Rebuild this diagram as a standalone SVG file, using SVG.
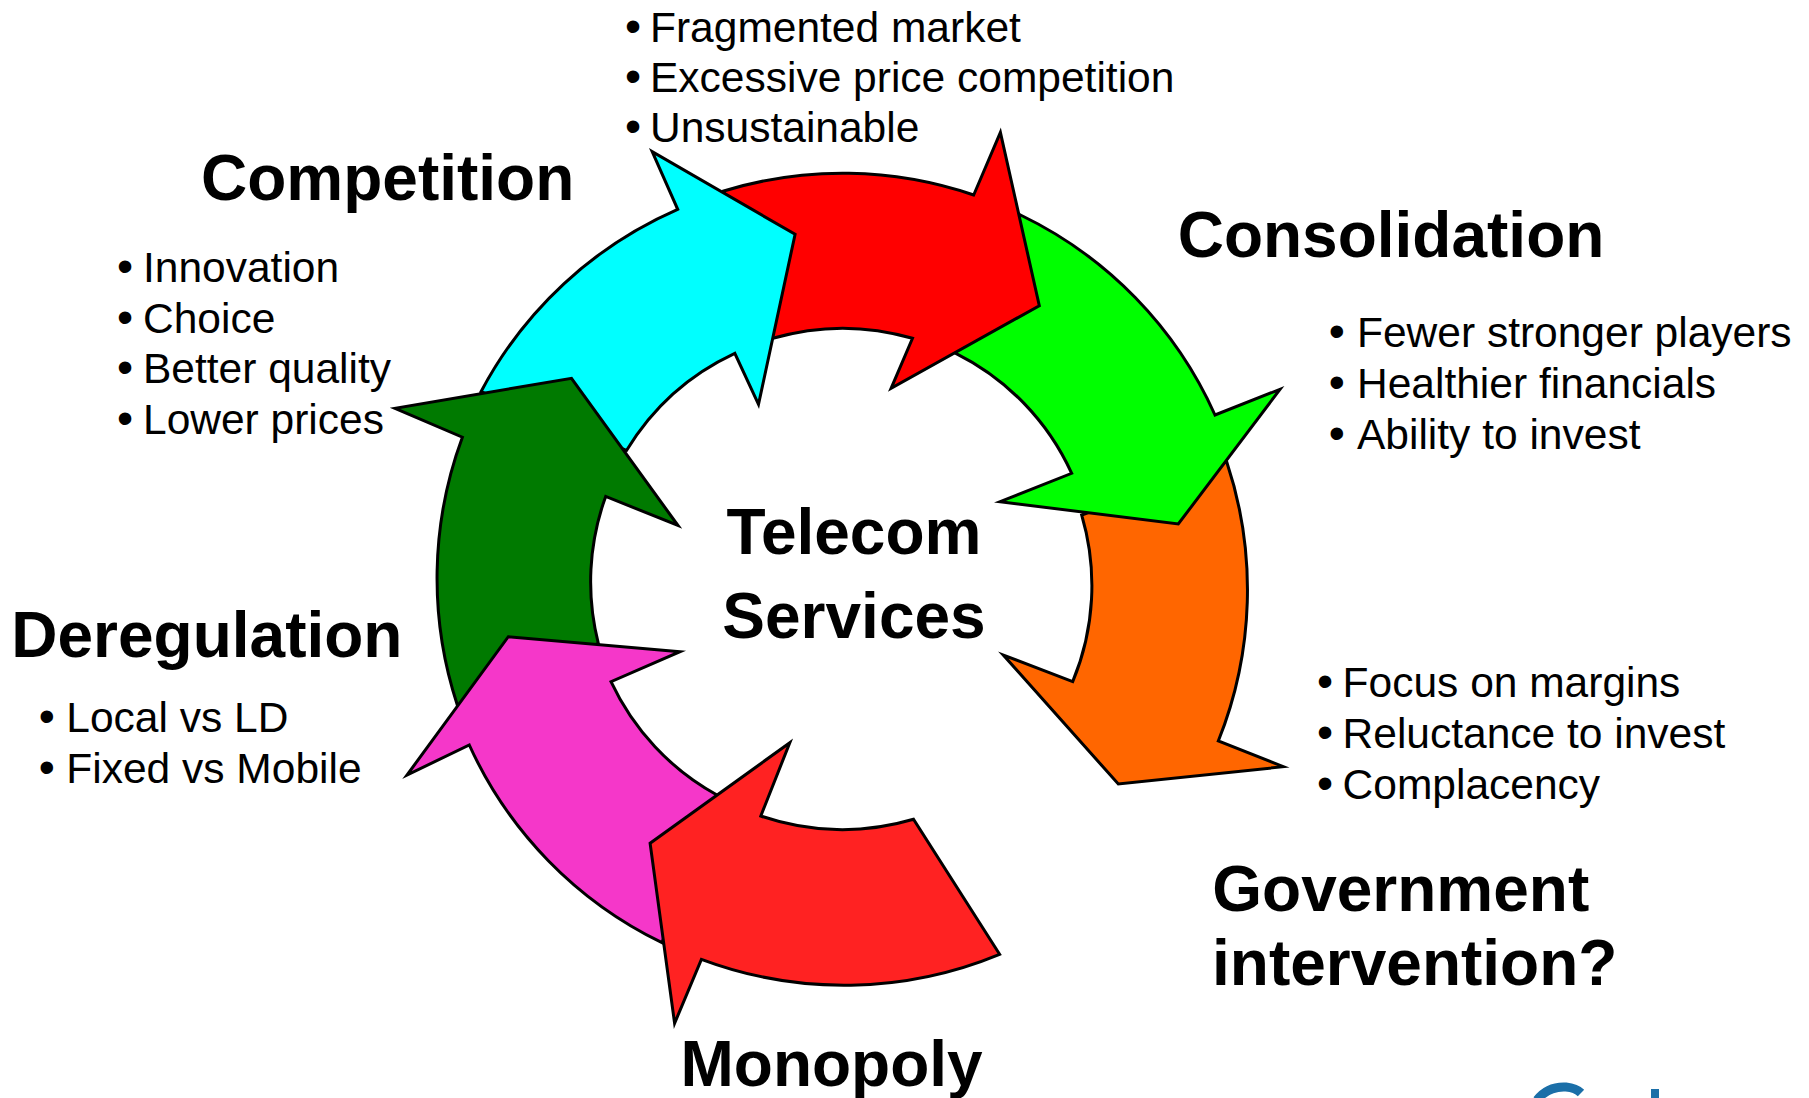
<svg xmlns="http://www.w3.org/2000/svg" width="1809" height="1098" viewBox="0 0 1809 1098">
<style>
.arr{stroke:#000;stroke-width:3;stroke-linejoin:miter;stroke-miterlimit:10}
.h{font-family:"Liberation Sans",Arial,sans-serif;font-weight:bold;font-size:64px;fill:#000}
.b{font-family:"Liberation Sans",Arial,sans-serif;font-size:42.5px;fill:#000}
.bl{font-size:46px}
</style>
<rect width="1809" height="1098" fill="#fff"/>
<g id="cycle">
<g id="arrow-orange"><path class="arr" fill="#FF6600" d="M 1226.7 461.7 A 406 406 0 0 1 1218.3 741 L 1283.3 766.7 L 1118.3 784 L 1003.3 655 L 1072.7 681.7 A 250 250 0 0 0 1081.7 515 Z"/></g>
<g id="arrow-green"><path class="arr" fill="#00FF00" d="M 1020.5 215 A 406 406 0 0 1 1215 415 L 1280 389.3 L 1178.3 524 L 1000 501.7 L 1071.7 473.3 A 250 250 0 0 0 955.8 353.3 Z"/></g>
<g id="arrow-red-top"><path class="arr" fill="#FF0000" d="M 723.7 191 A 406 406 0 0 1 973.7 195 L 1000.4 132.3 L 1039.3 305.7 L 891.1 388.3 L 912.5 338.3 A 250 250 0 0 0 772.8 338.3 Z"/></g>
<g id="arrow-cyan"><path class="arr" fill="#00FFFF" d="M 481 391.7 A 406 406 0 0 1 677.7 209.3 L 652.2 151.7 L 795.1 234.3 L 758.5 404.3 L 734.8 353.3 A 250 250 0 0 0 626.5 450.5 Z"/></g>
<g id="arrow-darkgreen"><path class="arr" fill="#007A00" d="M 457.3 705 A 406 406 0 0 1 462.4 437.2 L 395 408.3 L 571.5 378.3 L 678 525.5 L 605.7 496.4 A 250 250 0 0 0 598.3 643.3 Z"/></g>
<g id="arrow-magenta"><path class="arr" fill="#F537C9" d="M 662 942.7 A 406 406 0 0 1 469.3 745 L 407 775 L 508.3 636.7 L 680 651.7 L 611 681.7 A 250 250 0 0 0 717 795 Z"/></g>
<g id="arrow-red-bottom"><path class="arr" fill="#FF2222" d="M 999.6 954.3 A 406 406 0 0 1 701.4 959.3 L 674.6 1023.3 L 650.1 843.3 L 789.8 742.7 L 760.8 816 A 250 250 0 0 0 913.5 819.3 Z"/></g>
</g>
<g id="center">
<text class="h" x="854" y="554" text-anchor="middle">Telecom</text>
<text class="h" x="854" y="638" text-anchor="middle">Services</text>
</g>
<g id="competition">
<text class="h" x="201" y="200">Competition</text>
<text class="b" y="282"><tspan class="bl" x="117">•</tspan><tspan x="143">Innovation</tspan></text>
<text class="b" y="332.5"><tspan class="bl" x="117">•</tspan><tspan x="143">Choice</tspan></text>
<text class="b" y="383"><tspan class="bl" x="117">•</tspan><tspan x="143">Better quality</tspan></text>
<text class="b" y="433.5"><tspan class="bl" x="117">•</tspan><tspan x="143">Lower prices</tspan></text>
</g>
<g id="fragmented">
<text class="b" y="41.5"><tspan class="bl" x="625">•</tspan><tspan x="650">Fragmented market</tspan></text>
<text class="b" y="91.5"><tspan class="bl" x="625">•</tspan><tspan x="650">Excessive price competition</tspan></text>
<text class="b" y="141.5"><tspan class="bl" x="625">•</tspan><tspan x="650">Unsustainable</tspan></text>
</g>
<g id="consolidation">
<text class="h" x="1177.7" y="256.7">Consolidation</text>
<text class="b" y="347"><tspan class="bl" x="1328.7">•</tspan><tspan x="1357">Fewer stronger players</tspan></text>
<text class="b" y="398"><tspan class="bl" x="1328.7">•</tspan><tspan x="1357">Healthier financials</tspan></text>
<text class="b" y="449"><tspan class="bl" x="1328.7">•</tspan><tspan x="1357">Ability to invest</tspan></text>
</g>
<g id="government">
<text class="b" y="697"><tspan class="bl" x="1317">•</tspan><tspan x="1342.6">Focus on margins</tspan></text>
<text class="b" y="748"><tspan class="bl" x="1317">•</tspan><tspan x="1342.6">Reluctance to invest</tspan></text>
<text class="b" y="798.5"><tspan class="bl" x="1317">•</tspan><tspan x="1342.6">Complacency</tspan></text>
<text class="h" x="1212.3" y="911">Government</text>
<text class="h" x="1212" y="985">intervention?</text>
</g>
<g id="deregulation">
<text class="h" x="11.3" y="656.7">Deregulation</text>
<text class="b" y="732"><tspan class="bl" x="38.7">•</tspan><tspan x="66.3">Local vs LD</tspan></text>
<text class="b" y="783"><tspan class="bl" x="38.7">•</tspan><tspan x="66.3">Fixed vs Mobile</tspan></text>
</g>
<g id="monopoly">
<text class="h" x="680.5" y="1085.6">Monopoly</text>
</g>
<g id="logo-fragment">
<path d="M 1537 1100 Q 1548 1086 1566 1087 Q 1576 1088 1581 1093" fill="none" stroke="#1B6FA8" stroke-width="9"/>
<rect x="1651" y="1089" width="8" height="9" fill="#1B6FA8"/>
</g>
</svg>
